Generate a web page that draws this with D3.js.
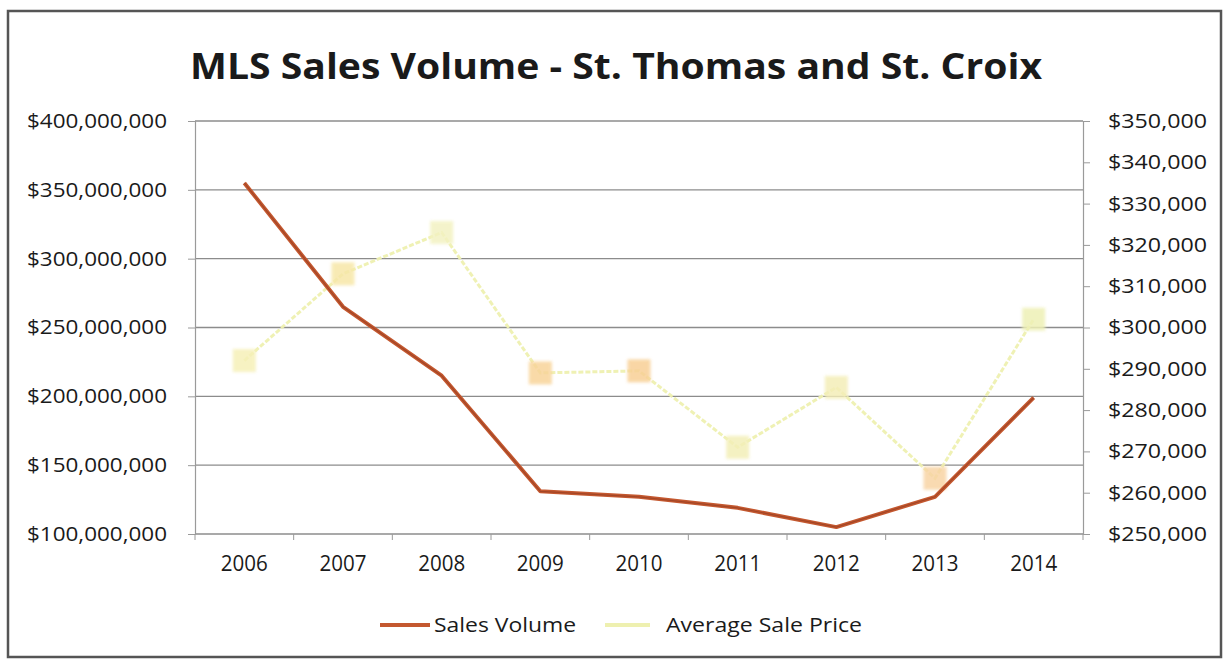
<!DOCTYPE html>
<html>
<head>
<meta charset="utf-8">
<script src="https://cdn.jsdelivr.net/npm/d3@7"></script>
<style>
  html, body { margin: 0; padding: 0; background: #fff; }
  svg { display: block; font-family: "Open Sans", "Noto Sans", sans-serif; }
  svg text { font-family: "Open Sans", "Noto Sans", sans-serif; }
</style>
</head>
<body>
<svg id="chart" width="1227" height="661"></svg>
<script>
// MLS sales, St. Thomas and St. Croix
const years = ["2006", "2007", "2008", "2009", "2010", "2011", "2012", "2013", "2014"];
const salesVolume = [355000000, 265000000, 215000000, 131000000, 127000000, 119000000, 105000000, 127000000, 199000000];
const avgSalePrice = [292000, 313000, 323000, 289000, 289500, 271000, 285500, 263500, 302000];
const leftTicks = [100000000, 150000000, 200000000, 250000000, 300000000, 350000000, 400000000];
const rightTicks = [250000, 260000, 270000, 280000, 290000, 300000, 310000, 320000, 330000, 340000, 350000];
const markerTone = ["#f6f0b8", "#f7e7a8", "#f3f2c2", "#f8d49a", "#f8d096", "#f3efb8", "#f4eeb8", "#f8d4a4", "#eef0b6"];

const svg = d3.select("#chart");
const W = 1227, H = 661;
const plot = { left: 195, right: 1083, top: 121, bottom: 534 };

// outer frame
svg.append("rect").attr("x", 8).attr("y", 11).attr("width", W - 14).attr("height", H - 15)
  .attr("fill", "#fff").attr("stroke", "#555").attr("stroke-width", 2.5);

const x = d3.scaleBand().domain(years).range([plot.left, plot.right]);
const yL = d3.scaleLinear().domain([100000000, 400000000]).range([plot.bottom, plot.top]);
const yR = d3.scaleLinear().domain([250000, 350000]).range([plot.bottom, plot.top]);
const fmt = d3.format("$,");
const font = "'Open Sans', 'Noto Sans', sans-serif";

// horizontal gridlines
svg.append("g").selectAll("line").data(leftTicks).join("line")
  .attr("x1", plot.left).attr("x2", plot.right)
  .attr("y1", d => yL(d)).attr("y2", d => yL(d))
  .attr("stroke", "#8c8c8c").attr("stroke-width", 1.3);

// left axis
const gl = svg.append("g").attr("transform", `translate(${plot.left},0)`)
  .call(d3.axisLeft(yL).tickValues(leftTicks).tickFormat(fmt).tickSize(7).tickPadding(21));
gl.attr("font-family", font);
gl.select(".domain").attr("stroke", "#9a9a9a").attr("stroke-width", 1.2);
gl.selectAll(".tick line").attr("stroke", "#9a9a9a");
gl.selectAll("text").attr("font-size", 20).attr("fill", "#1a1a1a")
  .attr("textLength", 140).attr("lengthAdjust", "spacingAndGlyphs");

// right axis
const gr = svg.append("g").attr("transform", `translate(${plot.right},0)`)
  .call(d3.axisRight(yR).tickValues(rightTicks).tickFormat(fmt).tickSize(7).tickPadding(18));
gr.attr("font-family", font);
gr.select(".domain").attr("stroke", "#9a9a9a").attr("stroke-width", 1.2);
gr.selectAll(".tick line").attr("stroke", "#9a9a9a");
gr.selectAll("text").attr("font-size", 20).attr("fill", "#1a1a1a")
  .attr("textLength", 99).attr("lengthAdjust", "spacingAndGlyphs");

// category axis
const gb = svg.append("g").attr("transform", `translate(0,${plot.bottom})`)
  .call(d3.axisBottom(x).tickSize(0).tickPadding(22));
gb.attr("font-family", font);
gb.select(".domain").remove();
gb.selectAll("text").attr("font-size", 21).attr("fill", "#1a1a1a")
  .attr("textLength", 47).attr("lengthAdjust", "spacingAndGlyphs");
svg.append("g").selectAll("line").data(years.concat(["end"])).join("line")
  .attr("x1", (d, i) => plot.left + i * x.step()).attr("x2", (d, i) => plot.left + i * x.step())
  .attr("y1", plot.bottom).attr("y2", plot.bottom + 6)
  .attr("stroke", "#9a9a9a");

const cx = d => x(d) + x.bandwidth() / 2;

// average sale price (right axis)
const priceLine = d3.line().x((d, i) => cx(years[i])).y(d => yR(d));
svg.append("path").datum(avgSalePrice).attr("d", priceLine)
  .attr("fill", "none").attr("stroke", "#eef0b0").attr("stroke-width", 3)
  .attr("stroke-dasharray", "5,2").attr("opacity", 0.95);
svg.append("g").selectAll("rect").data(avgSalePrice).join("rect")
  .attr("x", (d, i) => cx(years[i]) - 10).attr("y", d => yR(d) - 10)
  .attr("width", 20).attr("height", 20)
  .attr("fill", (d, i) => markerTone[i]).attr("stroke", (d, i) => markerTone[i])
  .attr("stroke-width", 3).attr("opacity", 0.85)
  .style("filter", "blur(1.5px)");

// sales volume (left axis)
const volLine = d3.line().x((d, i) => cx(years[i])).y(d => yL(d));
svg.append("path").datum(salesVolume).attr("d", volLine)
  .attr("fill", "none").attr("stroke", "#c4582f").attr("stroke-width", 4)
  .attr("stroke-linejoin", "round");
svg.append("path").datum(salesVolume).attr("d", volLine)
  .attr("fill", "none").attr("stroke", "#8e3b22").attr("stroke-width", 1.2)
  .attr("opacity", 0.6);

// title
svg.append("text").attr("x", 616).attr("y", 79).attr("text-anchor", "middle")
  .attr("font-family", font)
  .attr("font-size", 36).attr("font-weight", "bold").attr("fill", "#1a1a1a")
  .attr("textLength", 852).attr("lengthAdjust", "spacingAndGlyphs")
  .text("MLS Sales Volume - St. Thomas and St. Croix");

// legend
const lg = svg.append("g").attr("font-family", font);
lg.append("line").attr("x1", 380).attr("x2", 430).attr("y1", 625).attr("y2", 625)
  .attr("stroke", "#c4582f").attr("stroke-width", 4);
lg.append("text").attr("x", 434).attr("y", 632).attr("font-size", 20).attr("fill", "#1a1a1a")
  .attr("textLength", 142).attr("lengthAdjust", "spacingAndGlyphs").text("Sales Volume");
lg.append("line").attr("x1", 605).attr("x2", 650).attr("y1", 625).attr("y2", 625)
  .attr("stroke", "#eef0b0").attr("stroke-width", 4);
lg.append("text").attr("x", 666).attr("y", 632).attr("font-size", 20).attr("fill", "#1a1a1a")
  .attr("textLength", 196).attr("lengthAdjust", "spacingAndGlyphs").text("Average Sale Price");
</script>
</body>
</html>
